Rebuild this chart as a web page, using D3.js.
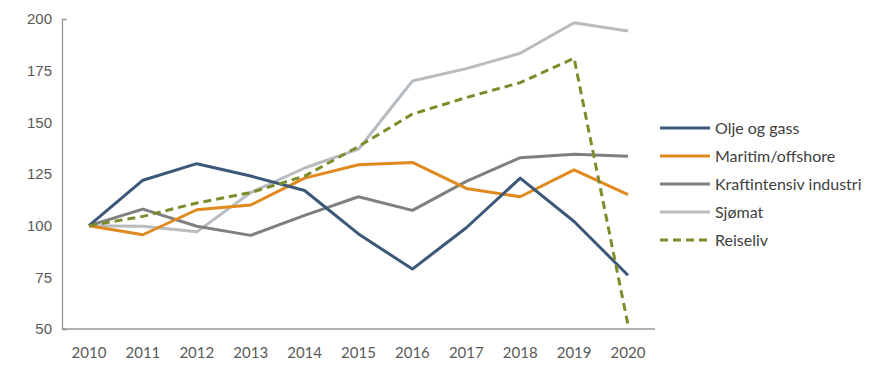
<!DOCTYPE html>
<html>
<head>
<meta charset="utf-8">
<script src="https://cdn.jsdelivr.net/npm/d3@7"></script>
<style>
  body { margin: 0; background: #fff; }
  svg { display: block; font-family: Lato, "Open Sans", sans-serif; }
</style>
</head>
<body>
<svg id="svg" width="880" height="371"></svg>
<script>
var years = [2010, 2011, 2012, 2013, 2014, 2015, 2016, 2017, 2018, 2019, 2020];
var yTicks = [50, 75, 100, 125, 150, 175, 200];

var oljeOgGass   = [100, 122, 130, 124, 117, 96, 79, 99, 123, 102, 76];
var maritim      = [100, 95.6, 107.7, 110, 123, 129.5, 130.6, 118, 114, 127, 115];
var kraftint     = [100, 108, 99.7, 95.3, 105, 114, 107.4, 121.4, 132.9, 134.6, 133.6];
var sjomat       = [100, 99.7, 97, 116, 127.9, 137, 170, 176, 183.4, 198.2, 194.2];
var reiseliv     = [100, 104.5, 111, 116, 124, 138.3, 154, 162, 169.2, 181, 52];

var series = [
  { name: "Olje og gass", values: oljeOgGass, color: "#3b5878" },
  { name: "Maritim/offshore", values: maritim, color: "#e0891f" },
  { name: "Kraftintensiv industri", values: kraftint, color: "#7f7f7f" },
  { name: "Sjømat", values: sjomat, color: "#b7bcc0" },
  { name: "Reiseliv", values: reiseliv, color: "#7b8c2b", dash: "8,5" }
];

var svg = d3.select("#svg");
var plotLeft = 62, plotRight = 655, plotTop = 19, plotBottom = 329;

var x = d3.scalePoint().domain(years).range([89, 628]);
var y = d3.scaleLinear().domain([50, 200]).range([plotBottom, plotTop]);

// y axis: only a cap at the top, no inner ticks
var yAxis = svg.append("g")
  .attr("transform", "translate(" + plotLeft + ",0)")
  .call(d3.axisRight(y).tickValues(yTicks).tickSizeInner(0).tickSizeOuter(5)
    .tickFormat(d3.format("d")));
yAxis.select(".domain").attr("stroke", "#999").attr("stroke-width", 1.3);
yAxis.selectAll(".tick line").remove();
yAxis.selectAll(".tick text")
  .attr("x", -10).attr("text-anchor", "end")
  .attr("fill", "#595959").style("font-size", "15px");

// x axis
svg.append("line")
  .attr("x1", plotLeft).attr("x2", plotRight)
  .attr("y1", y(50)).attr("y2", y(50))
  .attr("stroke", "#999").attr("stroke-width", 1.3);

svg.append("g").selectAll("text")
  .data(years).enter().append("text")
  .attr("x", function(d) { return x(d); })
  .attr("y", 358)
  .attr("text-anchor", "middle")
  .attr("fill", "#595959")
  .style("font-size", "15px")
  .text(function(d) { return d; });

var line = d3.line()
  .x(function(d, i) { return x(years[i]); })
  .y(function(d) { return y(d); });

// draw back to front
var order = [3, 2, 1, 0, 4];
order.forEach(function(k) {
  var s = series[k];
  svg.append("path")
    .attr("d", line(s.values))
    .attr("fill", "none")
    .attr("stroke", s.color)
    .attr("stroke-width", 3)
    .attr("stroke-linejoin", "round")
    .attr("stroke-dasharray", s.dash || null);
});

// legend
var leg = svg.append("g");
series.forEach(function(s, i) {
  var ly = 128 + i * 28;
  leg.append("line")
    .attr("x1", 660).attr("x2", 710)
    .attr("y1", ly).attr("y2", ly)
    .attr("stroke", s.color).attr("stroke-width", 3)
    .attr("stroke-dasharray", s.dash || null);
  leg.append("text")
    .attr("x", 715).attr("y", ly + 6)
    .attr("fill", "#404040")
    .style("font-size", "16px")
    .text(s.name);
});
</script>
</body>
</html>
